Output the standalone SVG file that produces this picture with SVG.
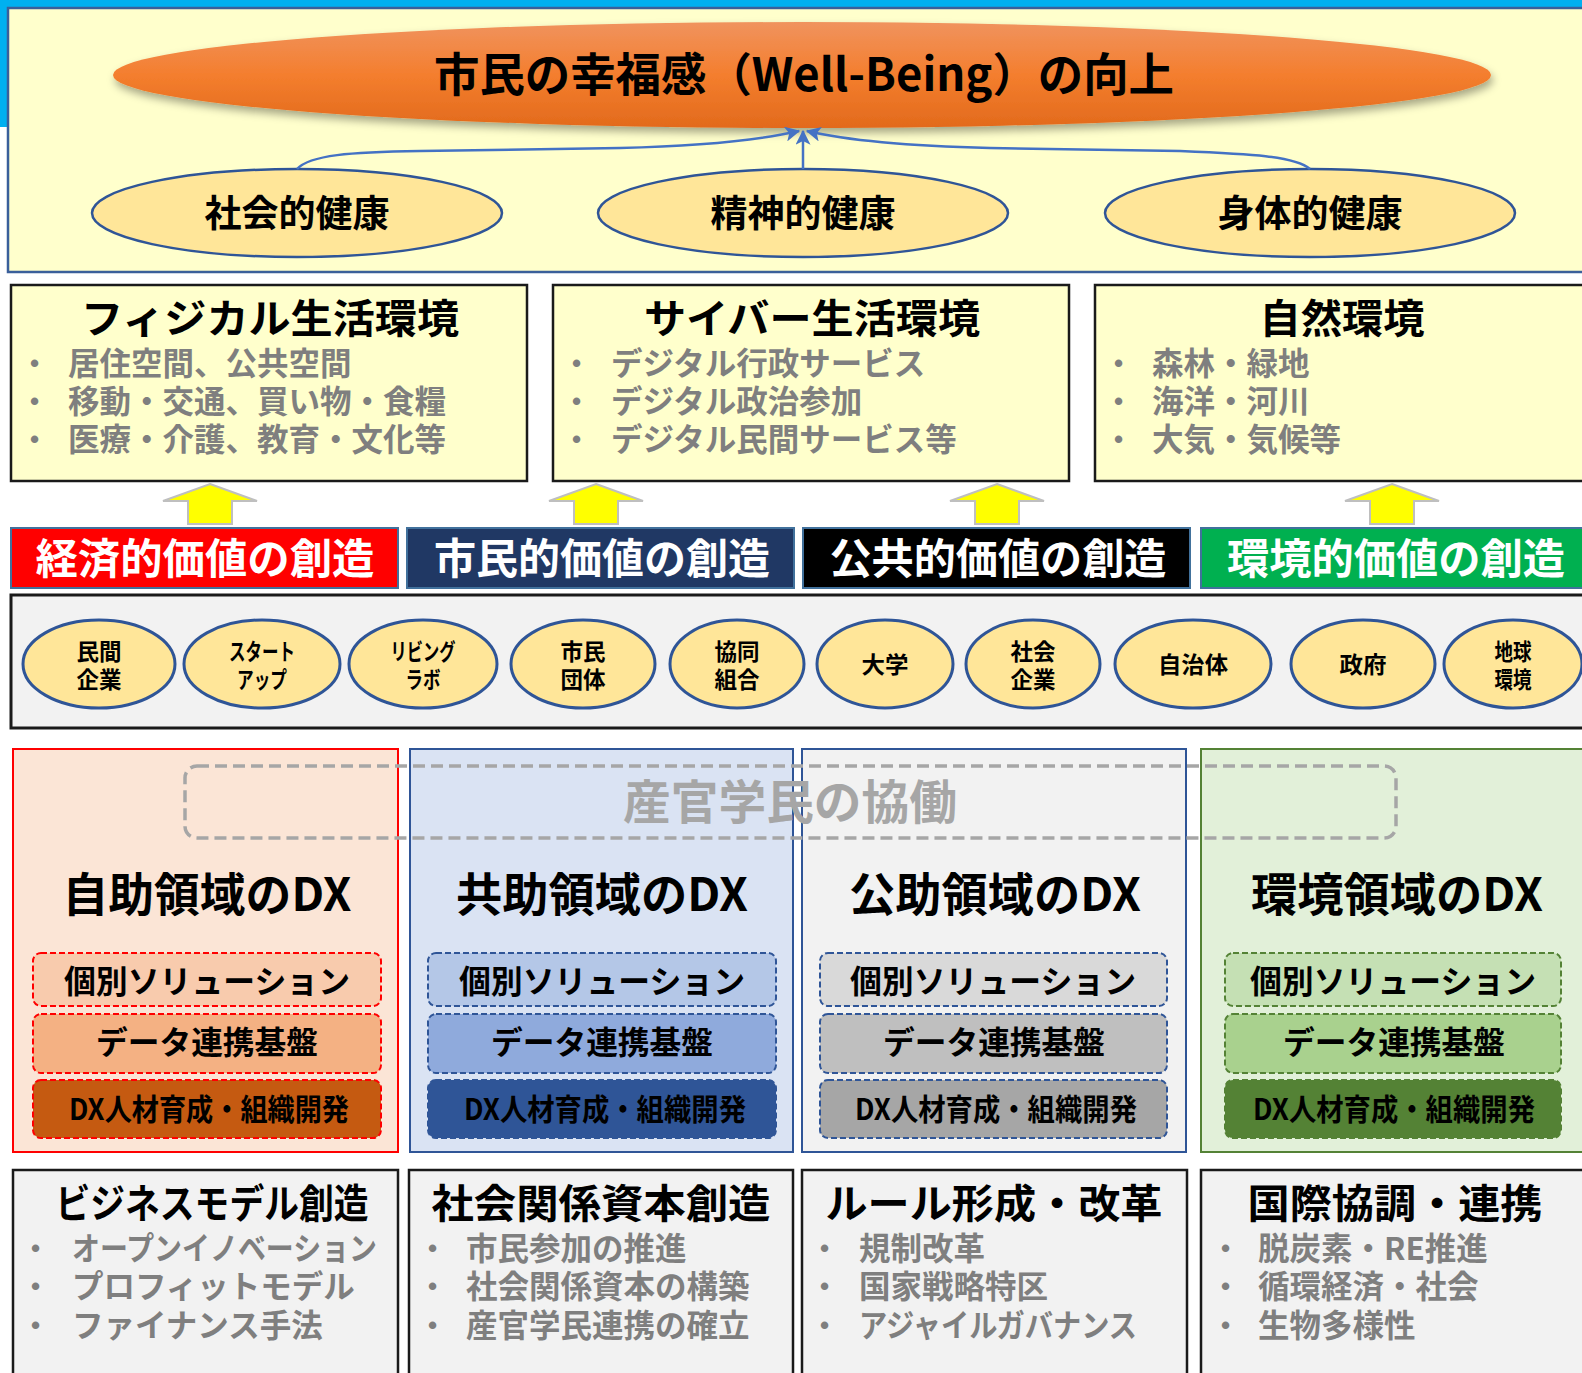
<svg xmlns="http://www.w3.org/2000/svg" width="1582" height="1373" viewBox="0 0 1582 1373">
<defs>
<style>
text{font-family:'Noto Sans CJK JP','Noto Sans CJK SC','Noto Sans',sans-serif;font-weight:700;text-anchor:middle;fill:#000}
.l{text-anchor:start}
.g{fill:#7F7F7F}
.w{fill:#FFFFFF}
.hl{fill:#FFE699;stroke:#2F5597;stroke-width:2.5}
.env{fill:#FFFFCC;stroke:#1A1A1A;stroke-width:2.5}
.ya{fill:#FFFF00;stroke:#BFBFBF;stroke-width:2}
.bn{stroke:#41719C;stroke-width:2}
.sk{fill:#FFE699;stroke:#2F5597;stroke-width:3}
.bt{fill:#F2F2F2;stroke:#1A1A1A;stroke-width:2.5}
.conn{fill:none;stroke:#4472C4;stroke-width:2.5}
.sb{stroke-width:2;stroke-dasharray:6 3}
.bu{font-family:'Liberation Sans',Arial,sans-serif;font-size:26px;fill:#7F7F7F;text-anchor:start}
.b1{font-size:31.5px}
.st{font-size:23px}
</style>
<linearGradient id="og" x1="0" y1="0" x2="0" y2="1">
<stop offset="0" stop-color="#F0935E"/>
<stop offset="0.5" stop-color="#F47E2E"/>
<stop offset="1" stop-color="#E26A1C"/>
</linearGradient>
<filter id="sh" x="-5%" y="-20%" width="110%" height="160%">
<feDropShadow dx="2" dy="5" stdDeviation="4" flood-color="#000" flood-opacity="0.35"/>
</filter>
<marker id="ah" viewBox="0 0 12 12" refX="11" refY="6" markerWidth="15" markerHeight="15" markerUnits="userSpaceOnUse" orient="auto">
<path d="M0,0 L12,6 L0,12 L3,6 z" fill="#4472C4"/>
</marker>
</defs>

<rect x="0" y="0" width="1582" height="127" fill="#00B0F0"/>
<rect x="8" y="8" width="1590" height="264" fill="#FFFFCC" stroke="#3A5F9A" stroke-width="2.5"/>

<g id="wellbeing">
<ellipse cx="802" cy="75" rx="689" ry="53" fill="url(#og)" filter="url(#sh)"/>
<text x="804" y="91" font-size="46" textLength="740" lengthAdjust="spacingAndGlyphs">市民の幸福感（Well-Being）の向上</text>
</g>

<g id="health-social"><ellipse class="hl" cx="297" cy="213" rx="205" ry="44"/><text x="297" y="227" font-size="37">社会的健康</text></g>
<g id="health-mental"><ellipse class="hl" cx="803" cy="213" rx="205" ry="44"/><text x="803" y="227" font-size="37">精神的健康</text></g>
<g id="health-physical"><ellipse class="hl" cx="1310" cy="213" rx="205" ry="44"/><text x="1310" y="227" font-size="37">身体的健康</text></g>

<g id="connectors">
<path class="conn" d="M297,169 C310,155 350,152 420,151 L620,148 C700,146 760,140 799,131" marker-end="url(#ah)"/>
<path class="conn" d="M803,169 L803,131" marker-end="url(#ah)"/>
<path class="conn" d="M1310,169 C1295,156 1250,154 1180,151 L990,148 C910,146 845,140 807,131" marker-end="url(#ah)"/>
</g>

<g id="env-physical">
<rect class="env" x="11" y="285" width="516" height="196"/>
<text x="270" y="333" font-size="40" textLength="378" lengthAdjust="spacingAndGlyphs">フィジカル生活環境</text>
<text class="bu" x="30" y="372">•</text><text class="l g b1" x="68" y="375">居住空間、公共空間</text>
<text class="bu" x="30" y="410">•</text><text class="l g b1" x="68" y="413">移動・交通、買い物・食糧</text>
<text class="bu" x="30" y="448">•</text><text class="l g b1" x="68" y="451">医療・介護、教育・文化等</text>
</g>
<g id="env-cyber">
<rect class="env" x="553" y="285" width="516" height="196"/>
<text x="812" y="333" font-size="40" textLength="336" lengthAdjust="spacingAndGlyphs">サイバー生活環境</text>
<text class="bu" x="572" y="372">•</text><text class="l g b1" x="611" y="375">デジタル行政サービス</text>
<text class="bu" x="572" y="410">•</text><text class="l g b1" x="611" y="413">デジタル政治参加</text>
<text class="bu" x="572" y="448">•</text><text class="l g b1" x="611" y="451">デジタル民間サービス等</text>
</g>
<g id="env-nature">
<rect class="env" x="1095" y="285" width="500" height="196"/>
<text x="1342" y="333" font-size="40" textLength="165" lengthAdjust="spacingAndGlyphs">自然環境</text>
<text class="bu" x="1114" y="372">•</text><text class="l g b1" x="1152" y="375">森林・緑地</text>
<text class="bu" x="1114" y="410">•</text><text class="l g b1" x="1152" y="413">海洋・河川</text>
<text class="bu" x="1114" y="448">•</text><text class="l g b1" x="1152" y="451">大気・気候等</text>
</g>

<g id="yellow-arrows">
<path class="ya" d="M210,484 L257,501 L232,501 L232,524 L188,524 L188,501 L163,501 Z"/>
<path class="ya" d="M596,484 L643,501 L618,501 L618,524 L574,524 L574,501 L549,501 Z"/>
<path class="ya" d="M997,484 L1044,501 L1019,501 L1019,524 L975,524 L975,501 L950,501 Z"/>
<path class="ya" d="M1392,484 L1439,501 L1414,501 L1414,524 L1370,524 L1370,501 L1345,501 Z"/>
</g>

<g id="value-economic"><rect class="bn" x="11" y="528" width="387" height="60" fill="#FF0000"/><text class="w" x="205" y="574" font-size="42" textLength="339" lengthAdjust="spacingAndGlyphs">経済的価値の創造</text></g>
<g id="value-civic"><rect class="bn" x="407" y="528" width="387" height="60" fill="#203864"/><text class="w" x="602" y="574" font-size="42" textLength="336" lengthAdjust="spacingAndGlyphs">市民的価値の創造</text></g>
<g id="value-public"><rect class="bn" x="803" y="528" width="387" height="60" fill="#000000"/><text class="w" x="998" y="574" font-size="42" textLength="337" lengthAdjust="spacingAndGlyphs">公共的価値の創造</text></g>
<g id="value-environment"><rect class="bn" x="1201" y="528" width="395" height="60" fill="#00B050"/><text class="w" x="1396" y="574" font-size="42" textLength="338" lengthAdjust="spacingAndGlyphs">環境的価値の創造</text></g>

<rect x="11" y="595" width="1590" height="133" fill="#F2F2F2" stroke="#1A1A1A" stroke-width="3"/>
<g id="sh-private"><ellipse class="sk" cx="99" cy="664" rx="76" ry="44"/><text class="st"><tspan x="99" y="660" textLength="45" lengthAdjust="spacingAndGlyphs">民間</tspan><tspan x="99" y="688" textLength="45" lengthAdjust="spacingAndGlyphs">企業</tspan></text></g>
<g id="sh-startup"><ellipse class="sk" cx="262" cy="664" rx="78" ry="44"/><text class="st"><tspan x="262" y="660" textLength="66" lengthAdjust="spacingAndGlyphs">スタート</tspan><tspan x="262" y="688" textLength="50" lengthAdjust="spacingAndGlyphs">アップ</tspan></text></g>
<g id="sh-livinglab"><ellipse class="sk" cx="423" cy="664" rx="74" ry="44"/><text class="st"><tspan x="423" y="660" textLength="65" lengthAdjust="spacingAndGlyphs">リビング</tspan><tspan x="423" y="688" textLength="35" lengthAdjust="spacingAndGlyphs">ラボ</tspan></text></g>
<g id="sh-civic"><ellipse class="sk" cx="583" cy="664" rx="72" ry="44"/><text class="st"><tspan x="583" y="660" textLength="45" lengthAdjust="spacingAndGlyphs">市民</tspan><tspan x="583" y="688" textLength="45" lengthAdjust="spacingAndGlyphs">団体</tspan></text></g>
<g id="sh-coop"><ellipse class="sk" cx="737" cy="664" rx="67" ry="44"/><text class="st"><tspan x="737" y="660" textLength="45" lengthAdjust="spacingAndGlyphs">協同</tspan><tspan x="737" y="688" textLength="45" lengthAdjust="spacingAndGlyphs">組合</tspan></text></g>
<g id="sh-univ"><ellipse class="sk" cx="885" cy="664" rx="68" ry="44"/><text class="st" x="885" y="673" textLength="47" lengthAdjust="spacingAndGlyphs">大学</text></g>
<g id="sh-social"><ellipse class="sk" cx="1033" cy="664" rx="67" ry="44"/><text class="st"><tspan x="1033" y="660" textLength="45" lengthAdjust="spacingAndGlyphs">社会</tspan><tspan x="1033" y="688" textLength="45" lengthAdjust="spacingAndGlyphs">企業</tspan></text></g>
<g id="sh-local"><ellipse class="sk" cx="1193" cy="664" rx="78" ry="44"/><text class="st" x="1193" y="673" textLength="70" lengthAdjust="spacingAndGlyphs">自治体</text></g>
<g id="sh-gov"><ellipse class="sk" cx="1363" cy="664" rx="72" ry="44"/><text class="st" x="1363" y="673" textLength="47" lengthAdjust="spacingAndGlyphs">政府</text></g>
<g id="sh-earth"><ellipse class="sk" cx="1513" cy="664" rx="69" ry="44"/><text class="st"><tspan x="1513" y="660" textLength="37" lengthAdjust="spacingAndGlyphs">地球</tspan><tspan x="1513" y="688" textLength="37" lengthAdjust="spacingAndGlyphs">環境</tspan></text></g>

<g id="dx-self">
<rect x="13" y="749" width="385" height="403" fill="#FBE5D6" stroke="#FF0000" stroke-width="2"/>
<text x="207" y="911" font-size="46" textLength="289" lengthAdjust="spacingAndGlyphs">自助領域のDX</text>
<rect class="sb" x="33" y="953" width="348" height="53" rx="8" fill="#F8CBAD" stroke="#FF0000"/>
<text x="207" y="993" font-size="32" textLength="286" lengthAdjust="spacingAndGlyphs">個別ソリューション</text>
<rect class="sb" x="33" y="1014" width="348" height="59" rx="8" fill="#F4B183" stroke="#FF0000"/>
<text x="207" y="1054" font-size="32" textLength="222" lengthAdjust="spacingAndGlyphs">データ連携基盤</text>
<rect class="sb" x="33" y="1080" width="348" height="58" rx="8" fill="#C55A11" stroke="#FF0000"/>
<text x="209" y="1120" font-size="30" textLength="280" lengthAdjust="spacingAndGlyphs">DX人材育成・組織開発</text>
</g>
<g id="dx-mutual">
<rect x="410" y="749" width="383" height="403" fill="#DAE3F3" stroke="#2F5597" stroke-width="2"/>
<text x="602" y="911" font-size="46" textLength="292" lengthAdjust="spacingAndGlyphs">共助領域のDX</text>
<rect class="sb" x="428" y="953" width="348" height="53" rx="8" fill="#B4C7E7" stroke="#2F5597"/>
<text x="602" y="993" font-size="32" textLength="286" lengthAdjust="spacingAndGlyphs">個別ソリューション</text>
<rect class="sb" x="428" y="1014" width="348" height="59" rx="8" fill="#8FAADC" stroke="#2F5597"/>
<text x="602" y="1054" font-size="32" textLength="222" lengthAdjust="spacingAndGlyphs">データ連携基盤</text>
<rect class="sb" x="428" y="1080" width="348" height="58" rx="8" fill="#2F5597" stroke="#2F5597"/>
<text x="605" y="1120" font-size="30" textLength="282" lengthAdjust="spacingAndGlyphs">DX人材育成・組織開発</text>
</g>
<g id="dx-public">
<rect x="802" y="749" width="384" height="403" fill="#F2F2F2" stroke="#2F5597" stroke-width="2"/>
<text x="995" y="911" font-size="46" textLength="292" lengthAdjust="spacingAndGlyphs">公助領域のDX</text>
<rect class="sb" x="820" y="953" width="347" height="53" rx="8" fill="#D9D9D9" stroke="#2F5597"/>
<text x="993" y="993" font-size="32" textLength="286" lengthAdjust="spacingAndGlyphs">個別ソリューション</text>
<rect class="sb" x="820" y="1014" width="347" height="59" rx="8" fill="#BFBFBF" stroke="#2F5597"/>
<text x="994" y="1054" font-size="32" textLength="222" lengthAdjust="spacingAndGlyphs">データ連携基盤</text>
<rect class="sb" x="820" y="1080" width="347" height="58" rx="8" fill="#A6A6A6" stroke="#2F5597"/>
<text x="996" y="1120" font-size="30" textLength="282" lengthAdjust="spacingAndGlyphs">DX人材育成・組織開発</text>
</g>
<g id="dx-environment">
<rect x="1201" y="749" width="395" height="403" fill="#E2F0D9" stroke="#548235" stroke-width="2"/>
<text x="1397" y="911" font-size="46" textLength="292" lengthAdjust="spacingAndGlyphs">環境領域のDX</text>
<rect class="sb" x="1225" y="953" width="336" height="53" rx="8" fill="#C5E0B4" stroke="#548235"/>
<text x="1393" y="993" font-size="32" textLength="286" lengthAdjust="spacingAndGlyphs">個別ソリューション</text>
<rect class="sb" x="1225" y="1014" width="336" height="59" rx="8" fill="#A9D18E" stroke="#548235"/>
<text x="1394" y="1054" font-size="32" textLength="222" lengthAdjust="spacingAndGlyphs">データ連携基盤</text>
<rect class="sb" x="1225" y="1080" width="336" height="58" rx="8" fill="#548235" stroke="#548235"/>
<text x="1394" y="1120" font-size="30" textLength="282" lengthAdjust="spacingAndGlyphs">DX人材育成・組織開発</text>
</g>

<g id="collaboration">
<rect x="185" y="766" width="1211" height="72" rx="12" fill="none" stroke="#A6A6A6" stroke-width="3.5" stroke-dasharray="12 6"/>
<text x="790" y="819" font-size="47" style="fill:#A6A6A6" textLength="334" lengthAdjust="spacingAndGlyphs">産官学民の協働</text>
</g>

<g id="out-business">
<rect class="bt" x="13" y="1170" width="385" height="220"/>
<text x="212" y="1218" font-size="40" textLength="313" lengthAdjust="spacingAndGlyphs">ビジネスモデル創造</text>
<text class="bu" x="31" y="1257">•</text><text class="l g b1" x="72" y="1260" textLength="305" lengthAdjust="spacingAndGlyphs">オープンイノベーション</text>
<text class="bu" x="31" y="1295">•</text><text class="l g b1" x="72" y="1298">プロフィットモデル</text>
<text class="bu" x="31" y="1334">•</text><text class="l g b1" x="72" y="1337">ファイナンス手法</text>
</g>
<g id="out-social">
<rect class="bt" x="409" y="1170" width="384" height="220"/>
<text x="601" y="1218" font-size="40" textLength="339" lengthAdjust="spacingAndGlyphs">社会関係資本創造</text>
<text class="bu" x="428" y="1257">•</text><text class="l g b1" x="466" y="1260">市民参加の推進</text>
<text class="bu" x="428" y="1295">•</text><text class="l g b1" x="466" y="1298">社会関係資本の構築</text>
<text class="bu" x="428" y="1334">•</text><text class="l g b1" x="466" y="1337">産官学民連携の確立</text>
</g>
<g id="out-rule">
<rect class="bt" x="802" y="1170" width="385" height="220"/>
<text x="994" y="1218" font-size="40" textLength="337" lengthAdjust="spacingAndGlyphs">ルール形成・改革</text>
<text class="bu" x="820" y="1257">•</text><text class="l g b1" x="859" y="1260">規制改革</text>
<text class="bu" x="820" y="1295">•</text><text class="l g b1" x="859" y="1298">国家戦略特区</text>
<text class="bu" x="820" y="1334">•</text><text class="l g b1" x="859" y="1337" textLength="278" lengthAdjust="spacingAndGlyphs">アジャイルガバナンス</text>
</g>
<g id="out-intl">
<rect class="bt" x="1201" y="1170" width="395" height="220"/>
<text x="1395" y="1218" font-size="40" textLength="295" lengthAdjust="spacingAndGlyphs">国際協調・連携</text>
<text class="bu" x="1221" y="1257">•</text><text class="l g b1" x="1258" y="1260">脱炭素・RE推進</text>
<text class="bu" x="1221" y="1295">•</text><text class="l g b1" x="1258" y="1298">循環経済・社会</text>
<text class="bu" x="1221" y="1334">•</text><text class="l g b1" x="1258" y="1337">生物多様性</text>
</g>
</svg>
